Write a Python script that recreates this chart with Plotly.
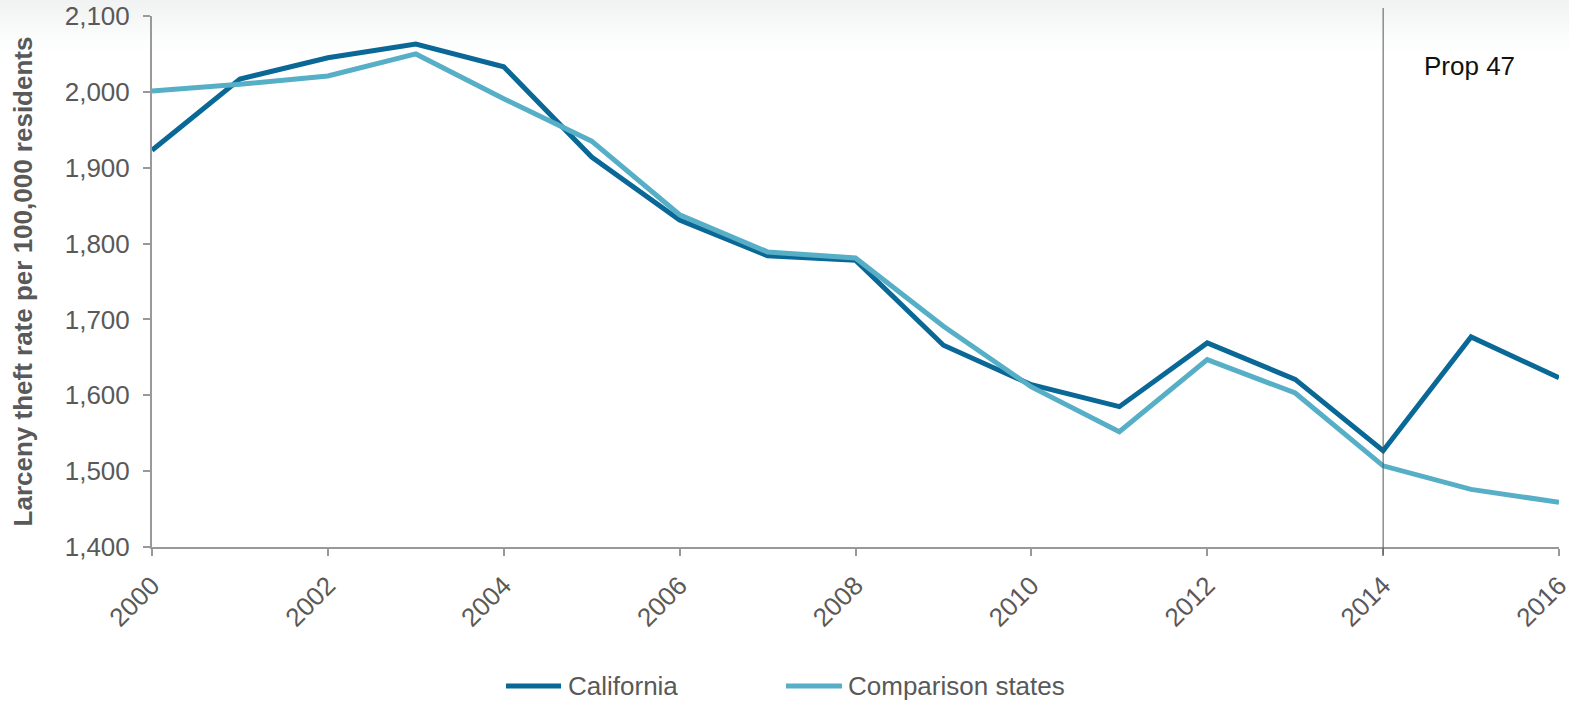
import plotly.graph_objects as go

years = list(range(2000, 2017))
california = [1923, 2017, 2045, 2063, 2033, 1914, 1831, 1784, 1778, 1666, 1614, 1585, 1669, 1621, 1527, 1677, 1623]
comparison = [2001, 2010, 2021, 2050, 1991, 1935, 1838, 1789, 1781, 1691, 1611, 1552, 1647, 1603, 1507, 1476, 1459]
x_ticks = list(range(2000, 2017, 2))
y_ticks = list(range(1400, 2101, 100))
prop_year = 2014
series_names = ["California", "Comparison states"]
series_colors = ["#0a6896", "#56afc6"]

FONT = "Liberation Sans, Arial"

fig = go.Figure()
for name, vals, col in zip(series_names, [california, comparison], series_colors):
    fig.add_trace(go.Scatter(x=years, y=vals, name=name, mode="lines",
                             line=dict(color=col, width=5), showlegend=False))

# top gradient band
n = 14
top = 1.031
span = 0.095
for i in range(n):
    y0 = top - (span / n) * (i + 1)
    y1 = top - (span / n) * i
    alpha = 0.10 * (1 - i / n)
    fig.add_shape(type="rect", xref="paper", yref="paper", x0=-0.11, x1=1.01, y0=y0, y1=y1,
                  fillcolor=f"rgba(120,130,130,{alpha:.3f})", line=dict(width=0), layer="below")

fig.add_shape(type="line", xref="x", yref="paper", x0=prop_year, x1=prop_year, y0=-0.015, y1=1.015,
              line=dict(color="#555555", width=1))
fig.add_annotation(x=0.9367, xref="paper", y=2034, yref="y", text="Prop 47", showarrow=False,
                   font=dict(family=FONT, size=26, color="#111111"),
                   xanchor="center", yanchor="middle")

# custom legend
leg_y = -0.262
leg_items = [(0.2516, 0.2907, 0.2942), (0.4506, 0.4904, 0.4932)]
for (lx0, lx1, tx), name, col in zip(leg_items, series_names, series_colors):
    fig.add_shape(type="line", xref="paper", yref="paper", x0=lx0, x1=lx1, y0=leg_y, y1=leg_y,
                  line=dict(color=col, width=5))
    fig.add_annotation(x=tx, xref="paper", y=leg_y, yref="paper", text=name, showarrow=False,
                       xanchor="left", yanchor="middle",
                       font=dict(family=FONT, size=26, color="#595959"))

fig.update_layout(
    width=1569, height=703,
    margin=dict(l=152, r=10, t=16, b=156),
    paper_bgcolor="white", plot_bgcolor="rgba(0,0,0,0)",
    font=dict(family=FONT, size=26, color="#595959"),
    showlegend=False,
    xaxis=dict(range=[2000, 2016], tickvals=x_ticks, ticktext=[str(v) for v in x_ticks],
               tickangle=-45, showgrid=False, zeroline=False, showline=True, automargin=False,
               ticklabeloverflow="allow",
               linecolor="#999999", linewidth=2, ticks="outside", ticklen=7, ticklabelstandoff=4,
               tickcolor="#999999", tickwidth=2, tickfont=dict(family=FONT, size=26, color="#595959")),
    yaxis=dict(range=[1400, 2100], tickvals=y_ticks, tickformat=",", automargin=False,
               ticklabeloverflow="allow",
               showgrid=False, zeroline=False, showline=True,
               linecolor="#999999", linewidth=2, ticks="outside", ticklen=7, ticklabelstandoff=8,
               tickcolor="#999999", tickwidth=2, tickfont=dict(family=FONT, size=26, color="#595959")),
    yaxis_title=dict(text="<b>Larceny theft rate per 100,000 residents</b>",
                     font=dict(family=FONT, size=26, color="#595959"), standoff=25),
)

fig.write_html("out.html", config={"displayModeBar": False},
               post_script="document.body.style.margin='0';document.body.style.overflow='hidden';")
